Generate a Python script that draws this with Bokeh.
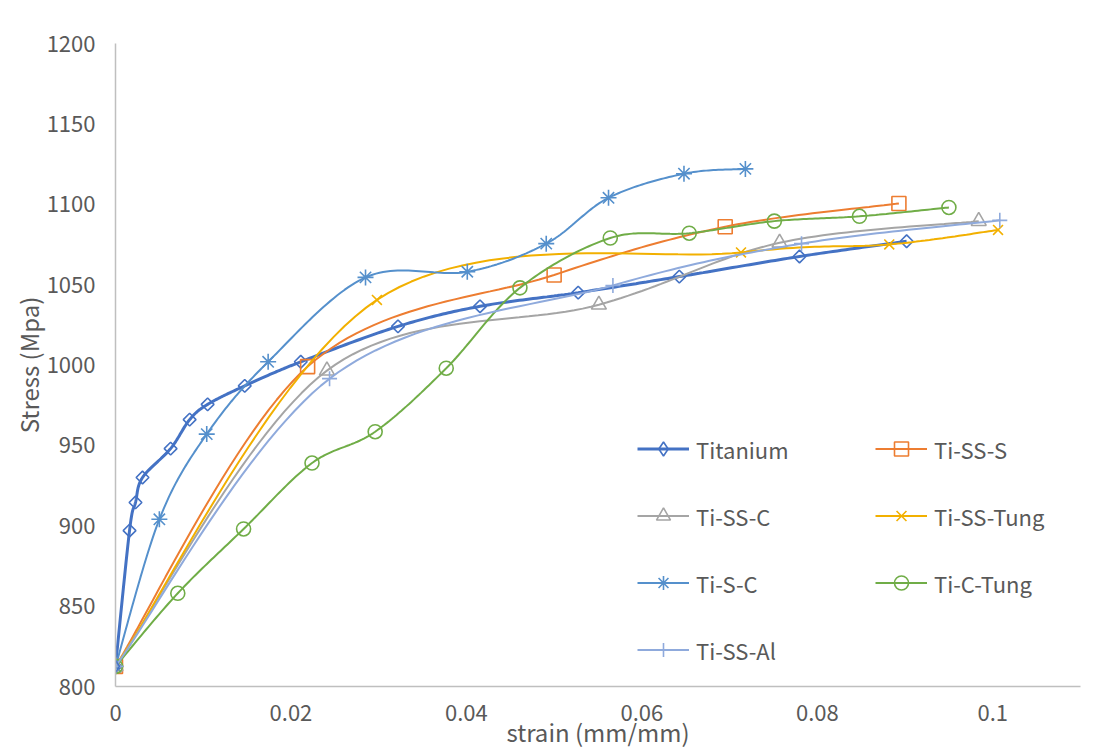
import numpy as np
from bokeh.plotting import figure
from bokeh.models import Range1d, FixedTicker, Legend, LegendItem
from bokeh.embed import file_html
from bokeh.resources import INLINE

# ---------------- data ----------------
series_names = ["Titanium", "Ti-SS-S", "Ti-SS-C", "Ti-SS-Tung", "Ti-S-C", "Ti-C-Tung", "Ti-SS-Al"]

titanium_x = [0, 0.0016, 0.00228, 0.00308, 0.00628, 0.00845, 0.0105, 0.01473, 0.02112, 0.0322, 0.04155, 0.05274, 0.06427, 0.07797, 0.09018]
titanium_y = [812.5, 897, 914.5, 930, 948, 966, 975.5, 987, 1002, 1024, 1036.5, 1045, 1055, 1067.5, 1077]

ti_ss_s_x = [0, 0.0219, 0.05, 0.0695, 0.0893]
ti_ss_s_y = [812.5, 999, 1056, 1086, 1100.5]

ti_ss_c_x = [0, 0.0241, 0.0551, 0.0757, 0.0984]
ti_ss_c_y = [812.5, 996.5, 1037.5, 1076, 1089.5]

ti_ss_tung_x = [0, 0.0298, 0.0713, 0.0882, 0.1006]
ti_ss_tung_y = [812.5, 1040.5, 1070, 1075, 1084]

ti_s_c_x = [0, 0.0050, 0.0104, 0.0174, 0.0285, 0.0401, 0.0491, 0.0562, 0.0648, 0.0718]
ti_s_c_y = [812.5, 904, 957, 1002, 1054.5, 1058, 1075.5, 1104, 1119, 1122]

ti_c_tung_x = [0, 0.0071, 0.0146, 0.0224, 0.0296, 0.0377, 0.0461, 0.0564, 0.0654, 0.0751, 0.0848, 0.0950]
ti_c_tung_y = [812.5, 858, 898, 939, 958.5, 998, 1048, 1079, 1082, 1089.5, 1092.5, 1098]

ti_ss_al_x = [0, 0.0244, 0.0567, 0.0782, 0.1008]
ti_ss_al_y = [812.5, 991.5, 1049.5, 1075.5, 1090]

x_ticks = [0, 0.02, 0.04, 0.06, 0.08, 0.1]
x_tick_labels = ["0", "0.02", "0.04", "0.06", "0.08", "0.1"]
y_ticks = [800, 850, 900, 950, 1000, 1050, 1100, 1150, 1200]

# ---------------- styling ----------------
FONT = "Noto Sans CJK SC"
TXT = "#595959"
AX = "#BFBFBF"

series = [
    (series_names[0], titanium_x, titanium_y, "#4472C4", "square", 9, np.pi / 4, 3.0),
    (series_names[1], ti_ss_s_x, ti_ss_s_y, "#ED7D31", "square", 14, 0, 2.0),
    (series_names[2], ti_ss_c_x, ti_ss_c_y, "#A5A5A5", "triangle", 15, 0, 2.0),
    (series_names[3], ti_ss_tung_x, ti_ss_tung_y, "#F2B000", "x", 14, 0, 2.0),
    (series_names[4], ti_s_c_x, ti_s_c_y, "#5590CC", "asterisk", 16, 0, 2.0),
    (series_names[5], ti_c_tung_x, ti_c_tung_y, "#70AD47", "circle", 14, 0, 2.0),
    (series_names[6], ti_ss_al_x, ti_ss_al_y, "#8FAADC", "cross", 15, 0, 2.0),
]

# pixel-ish scales used only to make the smoothing isotropic on screen
SX = 8760.0
SY = 1.6075


def smooth(xs, ys, n=30):
    pts = np.column_stack([np.asarray(xs, float) * SX, np.asarray(ys, float) * SY])
    P = np.vstack([pts[0], pts, pts[-1]])
    out = []
    t = np.linspace(0, 1, n)[:, None]
    for i in range(1, len(P) - 2):
        p0, p1, p2, p3 = P[i - 1], P[i], P[i + 1], P[i + 2]
        c1 = p1 + (p2 - p0) / 6.0
        c2 = p2 - (p3 - p1) / 6.0
        seg = (1 - t) ** 3 * p1 + 3 * (1 - t) ** 2 * t * c1 + 3 * (1 - t) * t ** 2 * c2 + t ** 3 * p2
        out.append(seg if i == 1 else seg[1:])
    arr = np.vstack(out)
    return arr[:, 0] / SX, arr[:, 1] / SY


p = figure(frame_width=965, frame_height=643, output_backend="svg", toolbar_location=None,
           x_range=Range1d(0, 0.11), y_range=Range1d(800, 1200),
           min_border_left=115, min_border_right=20, min_border_top=43, min_border_bottom=40)
p.xgrid.visible = False
p.ygrid.visible = False
p.outline_line_color = None
p.background_fill_color = "white"
p.border_fill_color = "white"

for ax in (p.xaxis[0], p.yaxis[0]):
    ax.axis_line_color = AX
    ax.axis_line_width = 1.5
    ax.major_tick_line_color = None
    ax.minor_tick_line_color = None
    ax.major_label_text_font = FONT
    ax.major_label_text_font_size = "22px"
    ax.major_label_text_color = TXT
    ax.axis_label_text_font = FONT
    ax.axis_label_text_font_size = "24px"
    ax.axis_label_text_color = TXT
    ax.axis_label_text_font_style = "normal"

p.xaxis.ticker = FixedTicker(ticks=x_ticks)
p.xaxis.major_label_overrides = {t: l for t, l in zip(x_ticks, x_tick_labels)}
p.yaxis.ticker = FixedTicker(ticks=y_ticks)
p.xaxis.axis_label = "strain (mm/mm)"
p.yaxis.axis_label = "Stress (Mpa)"
p.xaxis.major_label_standoff = 12
p.xaxis.axis_label_standoff = -10
p.yaxis.major_label_standoff = 14
p.yaxis.axis_label_standoff = -2

items = {}
for name, xs, ys, col, mk, sz, ang, lw in series:
    sx, sy = smooth(xs, ys)
    lr = p.line(sx, sy, line_color=col, line_width=lw)
    sr = p.scatter(xs, ys, marker=mk, size=sz, angle=ang, line_color=col,
                   fill_color=None, line_width=1.6)
    items[name] = [lr, sr]

# legend proxy for the Titanium diamond (legend glyphs ignore marker angle);
# it sits on Titanium's first point, which all series share
proxy = p.scatter(x=titanium_x[:1], y=titanium_y[:1], marker="diamond", size=12,
                  line_color="#4472C4", fill_color=None, line_width=1.6)
items[series_names[0]] = [items[series_names[0]][0], proxy]


def make_legend(names, loc):
    leg = Legend(items=[LegendItem(label=n, renderers=items[n]) for n in names],
                 location=loc, orientation="vertical",
                 glyph_width=52, glyph_height=35, label_height=35, spacing=32,
                 label_standoff=7, padding=0, margin=0,
                 border_line_color=None, background_fill_alpha=0,
                 label_text_font=FONT, label_text_font_size="22px",
                 label_text_color=TXT)
    return leg


p.add_layout(make_legend([series_names[0], series_names[2], series_names[4], series_names[6]], (522, 19)))
p.add_layout(make_legend([series_names[1], series_names[3], series_names[5]], (760, 86)))

open("out.html", "w").write(file_html(p, INLINE))
